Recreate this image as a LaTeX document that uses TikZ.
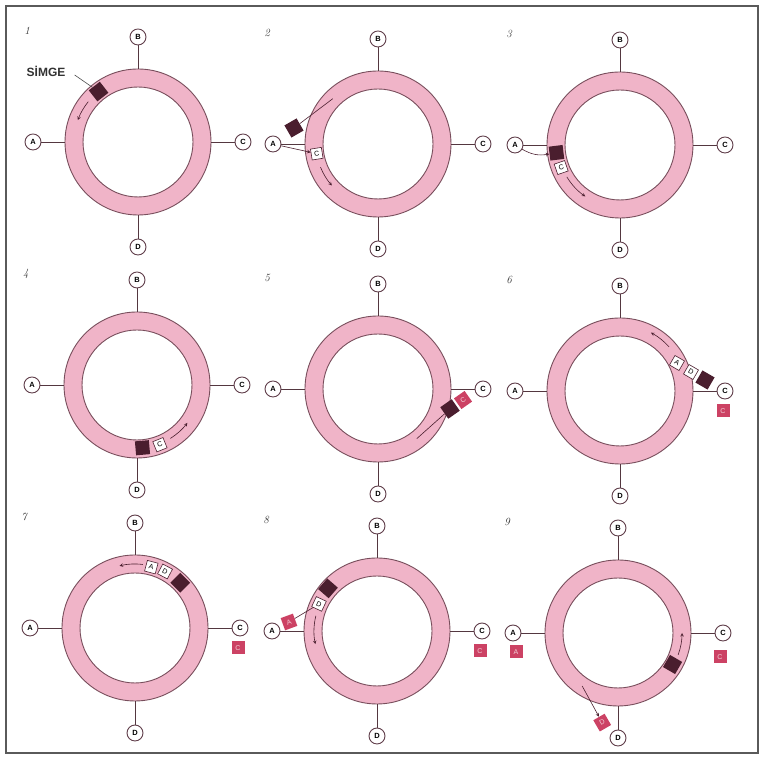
\documentclass[tikz,border=0pt]{standalone}
\usepackage{fontspec}
\setsansfont{Liberation Sans}
\definecolor{ringpink}{RGB}{240,180,200}
\definecolor{ringline}{RGB}{120,78,92}
\definecolor{tokendark}{RGB}{74,30,46}
\definecolor{copypink}{RGB}{204,66,100}
\definecolor{framegray}{RGB}{90,90,90}

\begin{document}
\begin{tikzpicture}[x=1pt,y=1pt,
  station/.style={draw=ringline!80!black, fill=white, circle, inner sep=0pt, minimum size=16pt, line width=0.9pt, font=\sffamily\bfseries\fontsize{7.5}{7.5}\selectfont},
  tokenbox/.style={fill=tokendark, minimum size=14pt, inner sep=0pt},
  framebox/.style={draw=tokendark, fill=white, minimum size=11pt, inner sep=0pt, line width=0.6pt, font=\sffamily\fontsize{7}{7}\selectfont},
  copybox/.style={fill=copypink, text=white!75!copypink, minimum size=13pt, inner sep=0pt, font=\sffamily\fontsize{7}{7}\selectfont},
  move/.style={->, >=stealth, line width=0.6pt, draw=tokendark},
  stub/.style={line width=0.9pt, draw=ringline!70!black},
  panelnum/.style={font=\itshape\fontsize{11}{11}\selectfont, text=black!80}]
\useasboundingbox (0,0) rectangle (764,762);
\draw[framegray, line width=1.4pt] (6,9) rectangle (758,756);

% ring, stations and number of each panel
\foreach \n/\cx/\cy in {1/138/620, 2/378/618, 3/620/617, 4/137/377, 5/378/373, 6/620/371, 7/135/134, 8/377/131, 9/618/129} {
  \begin{scope}[shift={(\cx,\cy)}]
    \fill[ringpink, even odd rule] (0,0) circle (73) (0,0) circle (55);
    \draw[ringline, line width=0.9pt] (0,0) circle (73) (0,0) circle (55);
    \node[station] (a\n) at (180:105) {A};
    \node[station] (b\n) at (90:105) {B};
    \node[station] (c\n) at (0:105) {C};
    \node[station] (d\n) at (270:105) {D};
    \coordinate (ra\n) at (180:73);
    \coordinate (rb\n) at (90:73);
    \coordinate (rc\n) at (0:73);
    \coordinate (rd\n) at (270:73);
    \draw[stub] (a\n) -- (ra\n);
    \draw[stub] (b\n) -- (rb\n);
    \draw[stub] (c\n) -- (rc\n);
    \draw[stub] (d\n) -- (rd\n);
    \node[panelnum] (n\n) at (-111,111) {\n};
  \end{scope}
}

% 1
\begin{scope}[shift={(138,620)}]
  \node[tokenbox, rotate=38] (tok1) at (128:64) {};
  \coordinate (m1) at (141:64);
  \draw[move] (m1) arc (141:160:64);
\end{scope}
\node[font=\sffamily\bfseries\fontsize{12}{12}\selectfont, text=black!80] (simge) at (46,691) {SİMGE};
\draw[line width=0.6pt, black!70, shorten <=7pt] (simge.east) -- (tok1);

% 2
\begin{scope}[shift={(378,618)}]
  \node[tokenbox, rotate=30] (tok2) at (-84,16) {};
  \coordinate (r2) at (135:64);
  \node[framebox, rotate=9] (f2) at (189:62) {C};
  \coordinate (m2) at (202:62);
  \draw[move] (m2) arc (202:222:62);
\end{scope}
\draw[line width=0.6pt, tokendark] (tok2) -- (r2);
\draw[move] (a2) -- (f2);

% 3
\begin{scope}[shift={(620,617)}]
  \node[tokenbox, rotate=7] (tok3) at (187:64) {};
  \node[framebox, rotate=19] (f3) at (201:63) {C};
  \coordinate (m3) at (211:62);
  \draw[move] (m3) arc (211:236:62);
\end{scope}
\draw[move] (a3) to[bend right=20] (tok3);

% 4
\begin{scope}[shift={(137,377)}]
  \node[tokenbox, rotate=5] (tok4) at (275:63) {};
  \node[framebox, rotate=22] (f4) at (291:64) {C};
  \coordinate (m4) at (302:63);
  \draw[move] (m4) arc (302:323:63);
\end{scope}

% 5
\begin{scope}[shift={(378,373)}]
  \node[tokenbox, rotate=35] (tok5) at (72,-20) {};
  \node[copybox, rotate=35] (cp5) at (85,-11) {C};
  \coordinate (m5) at (-52:63);
\end{scope}
\draw[line width=0.6pt, tokendark] (m5) -- (tok5);

% 6
\begin{scope}[shift={(620,371)}]
  \node[tokenbox, rotate=-30] (tok6) at (85,11) {};
  \node[framebox, rotate=-30] (d6) at (71,19) {D};
  \node[framebox, rotate=-30] (a6) at (57,28) {A};
  \coordinate (m6) at (42:66);
  \draw[move] (m6) arc (42:62:66);
  \node[copybox] (cp6) at (103,-20) {C};
\end{scope}

% 7
\begin{scope}[shift={(135,134)}]
  \node[framebox, rotate=-15] (a7) at (75:63) {A};
  \node[framebox, rotate=-28] (d7) at (62:64) {D};
  \node[tokenbox, rotate=-45] (tok7) at (45:64) {};
  \coordinate (m7) at (83:64);
  \draw[move] (m7) arc (83:104:64);
  \node[copybox] (cp7) at (103,-20) {C};
\end{scope}

% 8
\begin{scope}[shift={(377,131)}]
  \node[tokenbox, rotate=49] (tok8) at (139:65) {};
  \node[framebox, rotate=-25] (d8) at (155:64) {D};
  \coordinate (m8) at (166:63);
  \draw[move] (m8) arc (166:192:63);
  \node[copybox, rotate=20] (cp8) at (-88,9) {A};
  \node[copybox] (cp8c) at (103,-20) {C};
\end{scope}
\draw[line width=0.6pt, tokendark] (d8) -- (cp8);

% 9
\begin{scope}[shift={(618,129)}]
  \node[copybox] (cp9a) at (-102,-19) {A};
  \node[copybox] (cp9c) at (102,-24) {C};
  \node[tokenbox, rotate=-30] (tok9) at (-30:63) {};
  \coordinate (m9) at (-20:64);
  \draw[move] (m9) arc (-20:0:64);
  \coordinate (r9) at (236:64);
  \node[copybox, rotate=30] (cp9d) at (260:91) {D};
\end{scope}
\draw[move] (r9) -- (cp9d);
\end{tikzpicture}
\end{document}
